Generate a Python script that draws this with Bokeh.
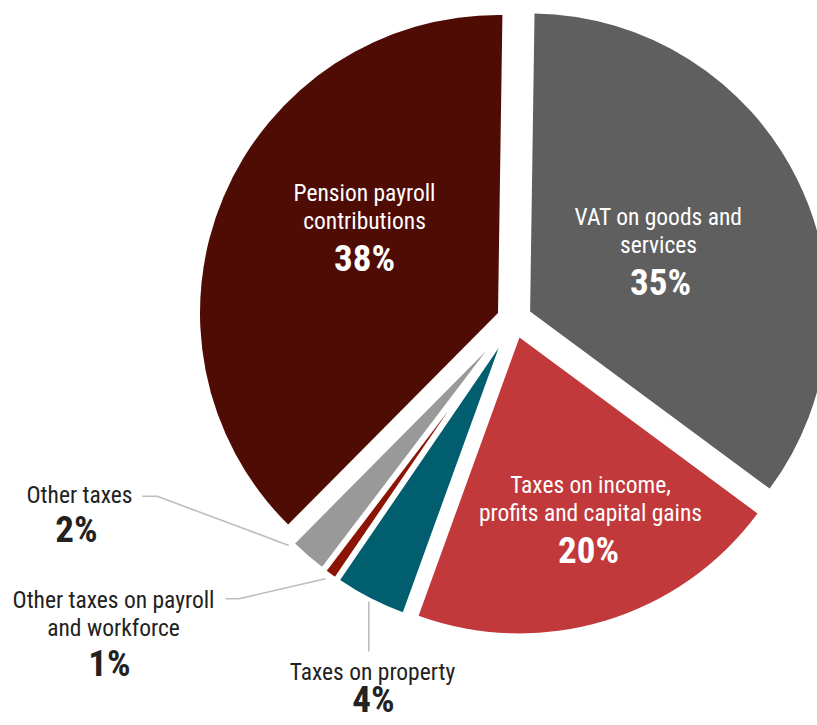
import numpy as np
from bokeh.plotting import figure
from bokeh.models import Range1d, ColumnDataSource
from bokeh.core.properties import value
from bokeh.embed import file_html
from bokeh.resources import INLINE

# ---------------- data ----------------
categories = [
    "VAT on goods and services",
    "Taxes on income, profits and capital gains",
    "Taxes on property",
    "Other taxes on payroll and workforce",
    "Other taxes",
    "Pension payroll contributions",
]
shares = [34.9, 20.4, 4.0, 0.8, 2.1, 37.8]
pct_labels = ["35%", "20%", "4%", "1%", "2%", "38%"]
label_lines = [
    ["VAT on goods and", "services"],
    ["Taxes on income,", "profits and capital gains"],
    ["Taxes on property"],
    ["Other taxes on payroll", "and workforce"],
    ["Other taxes"],
    ["Pension payroll", "contributions"],
]

# ---------------- style ----------------
colors = ["#5f5f5f", "#c1393b", "#015e6f", "#8c1404", "#999999", "#4f0c04"]
text_colors = ["white", "white", "#222222", "#222222", "#222222", "white"]
START_DEG = 0.85            # clockwise from 12 o'clock
CX, CY = 513.0, 320.0       # pie centre (page px)
apex_off = [(16.6, -9.1), (6.0, 16.9), (-14.9, 27.5), (-65.2, 90.2), (-27.5, 30.5), (-15.5, -7.5)]
radii = [298, 296, 281, 201, 271, 298]
# label anchor: (centre x, first line y) page px
label_pos = [(658, 216), (590, 484), (372, 671), (113, 599), (79, 494), (364, 192)]
pct_dx = [2, -2, 1, -4, -3, 0]
pct_gap = [37, 37, 28, 35, 35, 37]
LINE_GAP = 28.5
FONT = "Roboto Condensed, Roboto"
leaders = [
    None, None,
    ([368.3, 368.3], [601, 651]),
    ([225, 238.3, 325], [598.3, 598.3, 578.3]),
    ([141.7, 156.7, 288.3], [495.7, 495.7, 545]),
    None,
]

W, H = 817, 725
p = figure(width=W, height=H, x_range=Range1d(0, W), y_range=Range1d(-H, 0),
           output_backend="svg", toolbar_location=None, min_border=0,
           x_axis_location=None, y_axis_location=None)
p.grid.visible = False
p.outline_line_color = None
p.background_fill_color = "white"
p.border_fill_color = "white"

vals = np.array(shares, dtype=float)
frac = vals / vals.sum()
ends = START_DEG + np.cumsum(frac) * 360.0
starts = ends - frac * 360.0

xs, ys, sa, ea = [], [], [], []
for i in range(len(categories)):
    ax = CX + apex_off[i][0]
    ay = CY + apex_off[i][1]
    xs.append(ax)
    ys.append(-ay)
    sa.append(np.radians(90.0 - ends[i]))
    ea.append(np.radians(90.0 - starts[i]))

src = ColumnDataSource(dict(x=xs, y=ys, r=radii, sa=sa, ea=ea, color=colors, cat=categories))
p.wedge(x="x", y="y", radius="r", start_angle="sa", end_angle="ea", direction="anticlock",
        fill_color="color", line_color=None, source=src)

# leader lines
for ld in leaders:
    if ld is None:
        continue
    p.line(ld[0], [-v for v in ld[1]], line_color="#bdbdbd", line_width=1.6)

# labels
for i in range(len(categories)):
    cx, by = label_pos[i]
    lines = label_lines[i]
    tx = [cx] * len(lines)
    ty = [-(by + k * LINE_GAP) for k in range(len(lines))]
    p.text(x=tx, y=ty, text=lines, text_align="center", text_baseline="alphabetic",
           text_font=value(FONT), text_font_size="23.5px", text_color=text_colors[i])
    py = by + (len(lines) - 1) * LINE_GAP + pct_gap[i]
    p.text(x=[cx + pct_dx[i]], y=[-py], text=[pct_labels[i]], text_align="center",
           text_baseline="alphabetic", text_font=value(FONT), text_font_size="37px",
           text_font_style="bold", text_color=text_colors[i])

open("out.html", "w").write(file_html(p, INLINE))
